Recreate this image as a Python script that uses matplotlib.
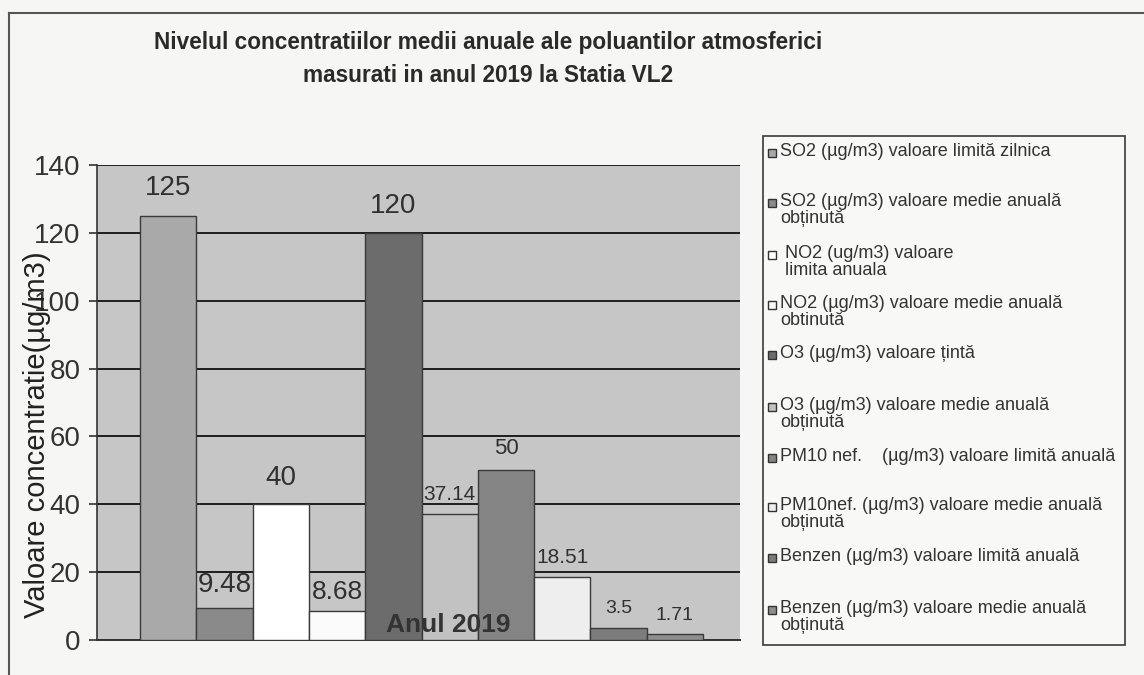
import matplotlib
matplotlib.use('Agg')
import matplotlib.pyplot as plt
from matplotlib.patches import Rectangle
from matplotlib.lines import Line2D

plt.rcParams['font.family'] = ['Liberation Sans', 'DejaVu Sans']

# date
values = [125, 9.48, 40, 8.68, 120, 37.14, 50, 18.51, 3.5, 1.71]
value_labels = ['125', '9.48', '40', '8.68', '120', '37.14', '50', '18.51', '3.5', '1.71']
series = [
    'SO2 (µg/m3) valoare limită zilnica',
    'SO2 (µg/m3) valoare medie anuală\nobținută',
    ' NO2 (ug/m3) valoare\n limita anuala',
    'NO2 (µg/m3) valoare medie anuală\nobtinută',
    'O3 (µg/m3) valoare țintă',
    'O3 (µg/m3) valoare medie anuală\nobținută',
    'PM10 nef.    (µg/m3) valoare limită anuală',
    'PM10nef. (µg/m3) valoare medie anuală\nobținută',
    'Benzen (µg/m3) valoare limită anuală',
    'Benzen (µg/m3) valoare medie anuală\nobținută',
]
category = 'Anul 2019'
yticks = [0, 20, 40, 60, 80, 100, 120, 140]

# stil
colors = ['#a9a9a9', '#8a8a8a', '#ffffff', '#fbfbfb', '#6c6c6c',
          '#c2c2c2', '#848484', '#eeeeee', '#7c7c7c', '#8e8e8e']
label_sizes = [20, 20, 20, 19, 20, 15, 16, 15, 14, 14]
label_dy = [28, 23, 26, 19, 27, 19, 22, 20, 20, 19]

W, H = 1144, 675


def px(x, y):
    return x / W, 1 - y / H


fig = plt.figure(figsize=(W / 100, H / 100), dpi=100)
fig.patch.set_facecolor('#f6f6f4')

x0, y0 = px(97, 640)
x1, y1 = px(740, 165)
ax = fig.add_axes([x0, y0, x1 - x0, y1 - y0])
ax.set_facecolor('#c6c6c6')

xs = list(range(len(values)))
ax.bar(xs, values, width=1.0, color=colors, edgecolor='#3a3a3a', linewidth=1.0, zorder=3)

for i, (v, lab) in enumerate(zip(values, value_labels)):
    ax.annotate(lab, (i, v), xytext=(0, label_dy[i]), textcoords='offset pixels',
                ha='center', va='center', fontsize=label_sizes[i], color='#303030', zorder=5)

ax.set_ylim(0, 140)
ax.set_xlim(-1.264, 10.157)
ax.set_yticks(yticks)
ax.set_yticklabels([str(t) for t in yticks], fontsize=20, color='#333333')
ax.tick_params(axis='y', length=6, width=1.2, color='#333333', pad=6)
ax.set_xticks([])
ax.grid(axis='y', color='#1e1e1e', linewidth=1.4, zorder=1)
ax.set_axisbelow(True)
for s in ['top', 'right']:
    ax.spines[s].set_visible(False)
ax.spines['left'].set_color('#333333')
ax.spines['bottom'].set_color('#333333')
ax.spines['left'].set_linewidth(1.2)
ax.spines['bottom'].set_linewidth(1.4)

# eticheta categoriei
ax.text(4.97, 4.5, category, ha='center', va='center', fontsize=19,
        fontweight='bold', color='#333333', zorder=6)

# eticheta axei y (in original se suprapune peste valorile axei)
fig.text(*px(37, 435), 'Valoare concentratie(µg/m3)', rotation=90, ha='center',
         va='center', fontsize=21, color='#222222')

# titlu
fig.text(*px(488, 43), 'Nivelul concentratiilor medii anuale ale poluantilor atmosferici',
         ha='center', va='center', fontsize=16.3, fontweight='bold', color='#2a2a2a')
fig.text(*px(488, 76), 'masurati in anul 2019 la Statia VL2',
         ha='center', va='center', fontsize=16.3, fontweight='bold', color='#2a2a2a')

# legenda
lx0, ly0 = px(763, 645)
lx1, ly1 = px(1125, 136)
fig.add_artist(Rectangle((lx0, ly0), lx1 - lx0, ly1 - ly0, transform=fig.transFigure,
                         facecolor='#f8f8f6', edgecolor='#3a3a3a', linewidth=1.2))
entry_y = [153, 203, 255, 305, 355, 407, 458, 507, 558, 610]
for lab, col, ey in zip(series, colors, entry_y):
    mx, my = px(768, ey + 4)
    fig.add_artist(Rectangle((mx, my), 8 / W, 8 / H, transform=fig.transFigure,
                             facecolor=col, edgecolor='#333333', linewidth=1.0))
    fig.text(*px(780, ey - 10), lab, ha='left', va='top', fontsize=13,
             color='#333333', linespacing=1.0)

# chenar
fig.add_artist(Line2D([9 / W, 9 / W], [0, 1 - 13 / H], transform=fig.transFigure,
                      color='#555555', linewidth=1.5))
fig.add_artist(Line2D([9 / W, 1], [1 - 13 / H, 1 - 13 / H], transform=fig.transFigure,
                      color='#555555', linewidth=1.5))

fig.savefig('out.png', dpi=100, facecolor=fig.get_facecolor())
